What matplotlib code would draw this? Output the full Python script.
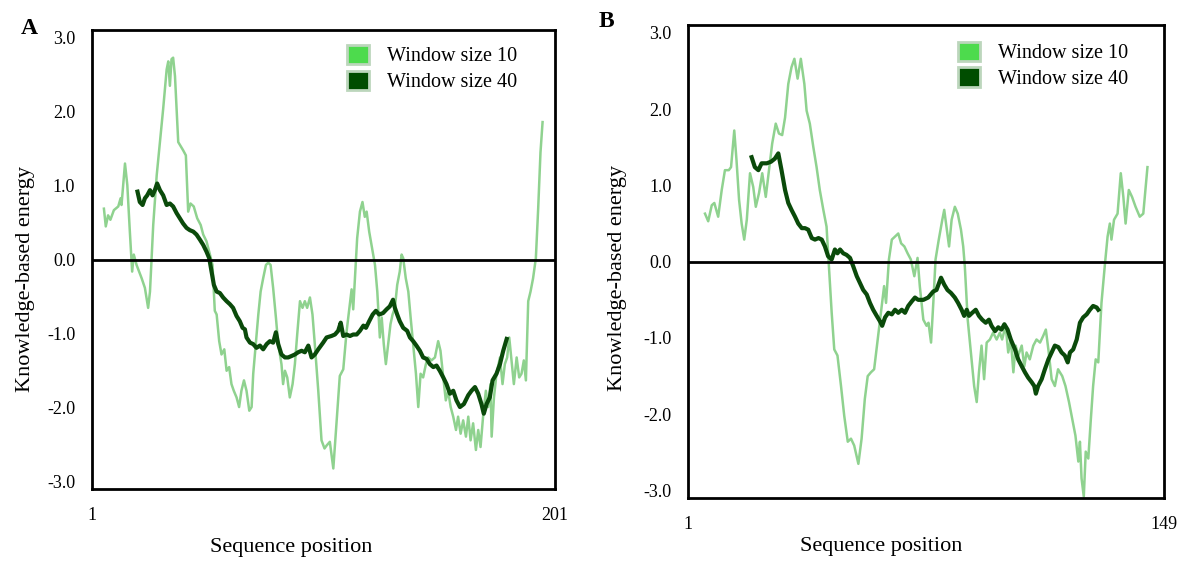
import matplotlib
matplotlib.use("Agg")
import matplotlib.pyplot as plt
from matplotlib.patches import Patch

plt.rcParams['font.family'] = ['Liberation Serif', 'DejaVu Serif']

# ---- panel A (201 residues) ----
a_len = 201
a_w10_pos = [6.2, 7, 8, 9, 10.5, 12.4, 13.4, 13.8, 15.3, 16.3, 17.4, 18.4, 19.1, 20.3, 22.5, 23.9,
             25.3, 26.1, 27.5, 29, 30.4, 31.8, 33.3, 34, 34.7, 35.4, 36.1, 36.9, 38.3, 40.4, 41.6,
             42.6, 43.6, 45, 46.5, 48, 49.1, 50.5, 52, 53.1, 54.1, 54.9, 56, 57, 58.2, 59.2, 60.3,
             61.3, 62.3, 63.5, 64.6, 65.6, 66.7, 67.8, 69, 70, 70.7, 71.9, 72.9, 73.9, 75, 76.2,
             77.2, 78.2, 79.3, 80.5, 81.5, 82.9, 83.6, 84.4, 85.4, 86.5, 87.7, 88.7, 89.7, 90.9,
             92, 93, 94, 95.2, 96.3, 97.3, 98.8, 100.2, 101.5, 102.4, 103.8, 105.3, 107.4, 108.1,
             109.6, 111, 113.2, 113.9, 114.6, 115.6, 116.8, 117.9, 118.9, 119.7, 120.8, 122.3,
             123.3, 124.3, 125.4, 126.2, 127.1, 128, 129, 130, 130.9, 131.9, 132.9, 134, 134.8,
             135.5, 136.6, 137.7, 138.7, 139.8, 141, 142, 143, 144.1, 145.3, 146.3, 147.7, 149.2,
             150.6, 151.6, 152.8, 153.9, 154.9, 156, 157.1, 158.3, 159.2, 160.3, 161.4, 162.6,
             163.6, 164.6, 165.7, 166.9, 167.9, 168.9, 170, 171.2, 172.2, 173.2, 173.7, 174.7,
             175.8, 177.3, 178.4, 179.4, 180.4, 181.3, 182.3, 183.3, 184.5, 185.6, 186.6, 187.6,
             188.5, 189.5, 190.5, 191.6, 192.8, 193.8, 194.8, 195.7]
a_w10_val = [0.69, 0.45, 0.60, 0.54, 0.67, 0.72, 0.83, 0.74, 1.30, 1.01, 0.38, -0.16, 0.07, -0.07,
             -0.25, -0.38, -0.65, -0.43, 0.47, 1.14, 1.59, 2.04, 2.57, 2.68, 2.35, 2.71, 2.73, 2.48,
             1.59, 1.48, 1.41, 0.65, 0.76, 0.72, 0.56, 0.47, 0.34, 0.25, 0.07, -0.07, -0.69, -0.74,
             -1.10, -1.28, -1.21, -1.50, -1.45, -1.68, -1.77, -1.86, -1.99, -1.77, -1.63, -1.77,
             -2.04, -1.99, -1.54, -1.10, -0.74, -0.43, -0.25, -0.07, -0.04, -0.07, -0.38, -0.78,
             -1.14, -1.41, -1.68, -1.50, -1.59, -1.86, -1.68, -1.41, -1.01, -0.56, -0.65, -0.56,
             -0.65, -0.51, -0.74, -1.14, -1.77, -2.44, -2.55, -2.51, -2.46, -2.82, -1.88, -1.57,
             -1.48, -0.98, -0.40, -0.67, -0.27, 0.29, 0.65, 0.78, 0.58, 0.65, 0.38, 0.11, -0.07,
             -0.43, -1.05, -0.78, -1.14, -1.41, -1.14, -0.87, -0.74, -0.65, -0.34, -0.16, 0.07,
             0.02, -0.25, -0.43, -0.78, -1.14, -1.54, -1.99, -1.54, -1.59, -1.41, -1.32, -1.36,
             -1.32, -1.10, -1.23, -1.59, -1.90, -1.77, -1.99, -2.12, -2.30, -2.12, -2.35, -2.17,
             -2.39, -2.12, -2.44, -2.21, -2.57, -2.30, -2.53, -2.12, -1.77, -1.99, -1.68, -2.39,
             -1.86, -1.54, -1.32, -1.68, -1.41, -1.32, -1.05, -1.36, -1.68, -1.32, -1.59, -1.54,
             -1.36, -1.63, -0.56, -0.43, -0.25, 0.02, 0.69, 1.45, 1.86]

a_w40_pos = [20.7, 21.7, 22.9, 23.9, 24.9, 26.1, 27.2, 28.2, 29.2, 30.4, 31.8, 33.3, 34.7, 36.1,
             37.6, 39, 40.4, 41.9, 43.3, 44.8, 46.2, 47.7, 49.1, 50.5, 51.7, 52.7, 53.7, 54.9,
             56.3, 57.7, 59.2, 60.6, 62, 63.5, 64.9, 66.1, 67.1, 67.8, 69.3, 70.7, 72.1, 73.6,
             75, 76.5, 77.9, 79.3, 80.5, 81.5, 82.9, 84.4, 85.8, 87.3, 88.7, 90.1, 91.6, 93,
             94.5, 95.9, 97.3, 98.8, 100.9, 102.4, 104.5, 106, 107.4, 108.5, 109.6, 111, 112.5,
             113.9, 115.4, 116.8, 118.3, 119.4, 120.8, 122.3, 123.7, 125.1, 126.8, 128.3, 129.7,
             131.1, 131.9, 132.9, 134, 135.5, 137.2, 138.4, 139.8, 141.2, 142.7, 144.1, 145.6,
             147, 148.5, 149.9, 151.3, 152.8, 154.2, 155.7, 157.1, 158.5, 160, 161.7, 163.6, 165,
             166.5, 167.9, 169.3, 170.3, 171.5, 172.9, 174.1, 175.8, 177.3, 178.7, 180.2]
a_w40_val = [0.92, 0.78, 0.74, 0.83, 0.87, 0.94, 0.87, 0.94, 1.03, 0.94, 0.87, 0.74, 0.76, 0.72,
             0.63, 0.56, 0.49, 0.43, 0.40, 0.38, 0.34, 0.27, 0.20, 0.11, 0.02, -0.16, -0.34,
             -0.43, -0.45, -0.51, -0.56, -0.60, -0.65, -0.76, -0.83, -0.92, -0.94, -1.05, -1.12,
             -1.14, -1.19, -1.16, -1.21, -1.14, -1.10, -1.12, -0.98, -1.14, -1.28, -1.32, -1.32,
             -1.30, -1.28, -1.25, -1.23, -1.25, -1.16, -1.32, -1.28, -1.21, -1.12, -1.05, -1.03,
             -1.01, -0.96, -0.85, -1.03, -1.01, -1.03, -1.01, -1.01, -0.96, -0.89, -0.92, -0.83,
             -0.74, -0.69, -0.74, -0.72, -0.67, -0.63, -0.54, -0.65, -0.74, -0.83, -0.92, -0.96,
             -1.05, -1.10, -1.16, -1.23, -1.32, -1.34, -1.41, -1.45, -1.43, -1.50, -1.59, -1.68,
             -1.81, -1.77, -1.90, -1.99, -1.95, -1.83, -1.77, -1.72, -1.81, -1.95, -2.08, -1.95,
             -1.86, -1.63, -1.54, -1.41, -1.23, -1.07]

# ---- panel B (149 residues) ----
b_len = 149
b_w10_pos = [6.3, 7.3, 8.4, 9.2, 10.4, 11.5, 12.5, 13.7, 14.4, 15.4, 16.1, 16.9, 17.7, 18.5, 19.3,
             20.3, 21.3, 22.1, 23.1, 24.1, 25.2, 26.2, 27.2, 28.3, 29.3, 30.3, 31.2, 32.2, 33.2,
             34.1, 35.1, 36.1, 37.2, 37.9, 38.9, 40, 41, 42, 43.1, 44.1, 44.6, 45.1, 45.7, 46.5,
             47.5, 48.6, 49.6, 50.7, 51.7, 52.7, 54, 55, 56, 56.9, 57.9, 58.9, 60, 61, 62, 62.6,
             63.5, 64.4, 65.4, 66.4, 67.3, 68.3, 69.3, 70.3, 71.4, 72.4, 73.1, 74.2, 75.2, 75.8,
             76.6, 77.3, 78, 79, 80.1, 80.7, 81.4, 82.2, 83, 84, 84.9, 85.9, 86.6, 87.1, 88, 89,
             90, 90.8, 91.5, 92.3, 93.1, 93.9, 94.9, 95.9, 97, 98, 98.7, 99.8, 100.6, 101.4,
             102.2, 102.9, 103.7, 104.8, 105.6, 106.3, 107.3, 108.4, 109.4, 110.5, 111.5, 112.3,
             113.2, 114.1, 115.1, 116.1, 117.4, 118.4, 119.5, 120.5, 121.5, 122.4, 122.9, 123.4,
             124.1, 124.7, 125.5, 126.3, 127, 127.8, 128.6, 129.6, 130.7, 131.5, 132.2, 132.7,
             133.5, 134.6, 135.6, 136.4, 137.1, 138.1, 139.1, 140.2, 141.5, 142.6, 143.9]
b_w10_val = [0.63, 0.53, 0.74, 0.77, 0.59, 0.94, 1.20, 1.20, 1.24, 1.72, 1.33, 0.81, 0.50, 0.29,
             0.55, 1.16, 0.98, 0.72, 0.90, 1.16, 0.85, 1.20, 1.55, 1.81, 1.68, 1.66, 1.89, 2.33,
             2.55, 2.66, 2.40, 2.66, 2.33, 1.98, 1.81, 1.50, 1.24, 0.94, 0.68, 0.46, 0.11, -0.23,
             -0.67, -1.15, -1.23, -1.63, -2.02, -2.36, -2.32, -2.41, -2.65, -2.32, -1.80, -1.50,
             -1.45, -1.41, -1.02, -0.67, -0.32, -0.54, 0.03, 0.29, 0.33, 0.37, 0.24, 0.20, 0.11,
             0.03, -0.19, 0.05, -0.32, -0.76, -0.84, -0.80, -1.06, -0.54, 0.03, 0.29, 0.55, 0.68,
             0.46, 0.20, 0.55, 0.72, 0.63, 0.42, 0.20, -0.06, -0.76, -1.19, -1.63, -1.84, -1.45,
             -1.10, -1.54, -1.06, -1.02, -0.93, -1.02, -0.93, -1.02, -0.84, -1.19, -1.02, -1.45,
             -1.10, -1.23, -1.10, -1.37, -1.19, -1.28, -1.10, -1.02, -1.06, -0.97, -0.89, -1.19,
             -1.54, -1.63, -1.41, -1.50, -1.63, -1.84, -2.06, -2.28, -2.62, -2.36, -2.84, -3.08,
             -2.49, -2.58, -2.06, -1.63, -1.28, -1.32, -0.54, -0.02, 0.33, 0.50, 0.29, 0.55, 0.63,
             1.16, 0.85, 0.50, 0.94, 0.85, 0.72, 0.59, 0.63, 1.24]

b_w40_pos = [20.8, 21.8, 22.9, 23.9, 25.5, 26.8, 28, 29.1, 30.1, 31.2, 32.2, 33.2, 34.3, 35.3,
             36.4, 37.4, 38.4, 39.5, 40.5, 41.6, 42.6, 43.6, 44.6, 45.7, 46.7, 47.5, 48.3, 49.3,
             50.3, 51.4, 52.4, 53.5, 54.5, 55.5, 56.6, 57.6, 58.6, 59.7, 60.7, 61.4, 62.3, 63.3,
             64.4, 65.4, 66.4, 67.5, 68.5, 69.5, 70.6, 71.6, 72.6, 74.2, 75.7, 77.3, 78.3, 79.7,
             80.7, 81.7, 82.8, 84, 85, 86.1, 86.9, 87.7, 88.4, 89.4, 90.5, 91.5, 92.5, 93.6, 94.6,
             95.4, 96.5, 97.5, 98.5, 99.4, 100.4, 101.4, 102.7, 103.7, 104.8, 105.8, 106.8, 107.9,
             108.7, 109.2, 109.9, 111, 112, 113.1, 114.1, 115.1, 116.2, 117.2, 118.2, 119.1,
             119.8, 120.8, 121.9, 122.9, 123.9, 125, 126, 127, 128.1, 128.6]
b_w40_val = [1.37, 1.24, 1.20, 1.29, 1.29, 1.31, 1.35, 1.42, 1.20, 0.94, 0.77, 0.68, 0.59, 0.50,
             0.44, 0.44, 0.42, 0.31, 0.29, 0.31, 0.29, 0.20, 0.07, 0.03, 0.16, 0.11, 0.16, 0.11,
             0.09, 0.05, -0.06, -0.19, -0.28, -0.37, -0.43, -0.54, -0.63, -0.71, -0.78, -0.84,
             -0.73, -0.67, -0.69, -0.63, -0.67, -0.63, -0.67, -0.58, -0.52, -0.47, -0.50, -0.50,
             -0.47, -0.39, -0.37, -0.21, -0.30, -0.37, -0.41, -0.47, -0.54, -0.63, -0.71, -0.63,
             -0.71, -0.67, -0.63, -0.71, -0.76, -0.80, -0.76, -0.84, -0.91, -0.86, -0.89, -0.82,
             -0.89, -1.02, -1.15, -1.28, -1.37, -1.45, -1.52, -1.58, -1.63, -1.73, -1.63, -1.54,
             -1.41, -1.28, -1.19, -1.10, -1.12, -1.19, -1.23, -1.32, -1.19, -1.15, -1.02, -0.80,
             -0.73, -0.69, -0.63, -0.58, -0.60, -0.63]

y_ticks = [3.0, 2.0, 1.0, 0.0, -1.0, -2.0, -3.0]
y_labels = ["3.0", "2.0", "1.0", "0.0", "-1.0", "-2.0", "-3.0"]
legend_labels = ["Window size 10", "Window size 40"]

light = "#8fd28f"
dark = "#0a4a0a"

fig = plt.figure(figsize=(11.78, 5.61), dpi=100)
ax_a = fig.add_axes([0.078, 0.128, 0.393, 0.818])
ax_b = fig.add_axes([0.584, 0.112, 0.404, 0.843])

panels = [
    (ax_a, a_len, a_w10_pos, a_w10_val, a_w40_pos, a_w40_val, (0.43, -0.107), (-0.123, 0.457), (0.551, 0.968)),
    (ax_b, b_len, b_w10_pos, b_w10_val, b_w40_pos, b_w40_val, (0.405, -0.082), (-0.128, 0.465), (0.567, 0.965)),
]

for ax, n, p10, v10, p40, v40, xl, yl, leg in panels:
    ax.plot(p10, v10, color=light, lw=1.8, solid_joinstyle="round")
    ax.plot(p40, v40, color=dark, lw=3, solid_joinstyle="round")
    ax.axhline(0, color="black", lw=2)
    ax.set_xlim(1, n)
    ax.set_ylim(-3.1, 3.1)
    ax.set_xticks([1, n])
    ax.set_xticklabels(["1", str(n)], fontsize=13)
    ax.set_yticks(y_ticks)
    ax.set_yticklabels(y_labels, fontsize=13)
    ax.tick_params(axis="y", length=0, pad=12)
    ax.tick_params(axis="x", length=0, pad=13)
    for s in ax.spines.values():
        s.set_linewidth(2)
    ax.set_xlabel("Sequence position", fontsize=16)
    ax.xaxis.set_label_coords(*xl)
    ax.set_ylabel("Knowledge-based energy", fontsize=16)
    ax.yaxis.set_label_coords(*yl)
    handles = [Patch(facecolor="#4ddb4d", edgecolor="#bcd6bc", lw=2),
               Patch(facecolor="#004d00", edgecolor="#bcd6bc", lw=2)]
    ax.legend(handles, legend_labels, loc="upper left", bbox_to_anchor=leg, frameon=False,
              fontsize=14.5, handlelength=1.1, handleheight=1.1, handletextpad=0.9,
              labelspacing=0.2, borderpad=0, borderaxespad=0)

fig.text(0.025, 0.95, "A", fontsize=17, fontweight="bold", ha="center", va="center")
fig.text(0.515, 0.962, "B", fontsize=17, fontweight="bold", ha="center", va="center")

fig.savefig("out.png", dpi=100)
